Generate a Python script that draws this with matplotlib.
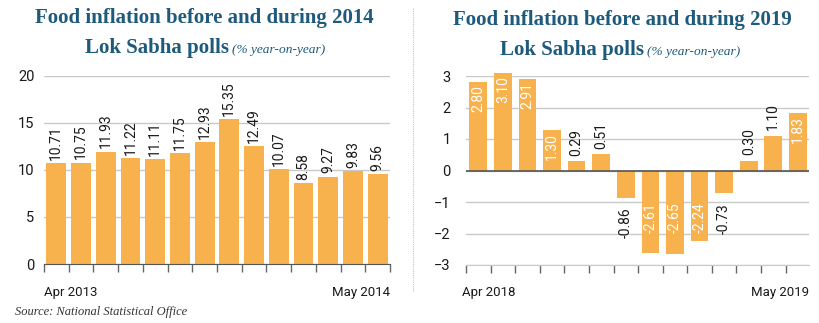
import matplotlib.pyplot as plt
import numpy as np

# Monthly food inflation, % year-on-year
months_2014 = ['Apr 2013', 'May 2013', 'Jun 2013', 'Jul 2013', 'Aug 2013', 'Sep 2013', 'Oct 2013',
               'Nov 2013', 'Dec 2013', 'Jan 2014', 'Feb 2014', 'Mar 2014', 'Apr 2014', 'May 2014']
infl_2014 = [10.71, 10.75, 11.93, 11.22, 11.11, 11.75, 12.93, 15.35, 12.49, 10.07, 8.58, 9.27, 9.83, 9.56]

months_2019 = ['Apr 2018', 'May 2018', 'Jun 2018', 'Jul 2018', 'Aug 2018', 'Sep 2018', 'Oct 2018',
               'Nov 2018', 'Dec 2018', 'Jan 2019', 'Feb 2019', 'Mar 2019', 'Apr 2019', 'May 2019']
infl_2019 = [2.80, 3.10, 2.91, 1.30, 0.29, 0.51, -0.86, -2.61, -2.65, -2.24, -0.73, 0.30, 1.10, 1.83]

BAR = '#f7b24e'
TITLE = '#1d5a7b'
GRID = '#c9c9c9'
INK = '#1a1a1a'
W, H = 820, 323

plt.rcParams['font.family'] = ['Roboto', 'DejaVu Sans']

fig = plt.figure(figsize=(W / 100, H / 100), dpi=100)


def px_axes(x0, y_top, x1, y_bot):
    return fig.add_axes([x0 / W, 1 - y_bot / H, (x1 - x0) / W, (y_bot - y_top) / H])


def style(ax, n):
    for s in ['left', 'right', 'top']:
        ax.spines[s].set_visible(False)
    ax.set_axisbelow(True)
    ax.yaxis.grid(True, color=GRID, lw=1)
    ax.tick_params(axis='y', length=0, labelsize=10.5, labelcolor=INK)
    ax.set_xticks(np.arange(n + 1) - 0.5)
    ax.set_xticklabels([])
    ax.tick_params(axis='x', length=6, width=1, color='#666666', direction='out')


# ---- left panel: 2014 ----
ax1 = px_axes(44, 75.7, 390, 264)
x1 = np.arange(len(infl_2014))
ax1.bar(x1, infl_2014, width=0.8, color=BAR)
ax1.set_xlim(-0.5, len(infl_2014) - 0.5)
ax1.set_ylim(0, 20)
ax1.set_yticks([0, 5, 10, 15, 20])
style(ax1, len(infl_2014))
ax1.spines['bottom'].set_color('#555555')
ax1.tick_params(axis='y', pad=7)
for xi, v in zip(x1, infl_2014):
    ax1.text(xi, v + 0.35, f'{v:.2f}', rotation=90, ha='center', va='bottom',
             fontsize=10, color=INK, clip_on=False)

# ---- right panel: 2019 ----
ax2 = px_axes(466, 76, 809, 265)
x2 = np.arange(len(infl_2019))
ax2.bar(x2, infl_2019, width=0.72, color=BAR, clip_on=False)
ax2.set_xlim(-0.5, len(infl_2019) - 0.55)
ax2.set_ylim(-3, 3)
ax2.set_yticks([3, 2, 1, 0, -1, -2, -3])
style(ax2, len(infl_2019) - 1)
ax2.spines['bottom'].set_color(GRID)
ax2.tick_params(axis='y', pad=11)
ax2.axhline(0, color='#555555', lw=1.2, zorder=2)
for xi, v in zip(x2, infl_2019):
    lab = f'{v:.2f}'
    if abs(v) >= 1.2:
        # long bars carry their value inside in white
        if v > 0:
            ax2.text(xi, v - 0.1, lab, rotation=90, ha='center', va='top',
                     fontsize=10, color='white', clip_on=False)
        else:
            ax2.text(xi, -1.02, lab, rotation=90, ha='center', va='top',
                     fontsize=10, color='white')
    elif v > 0:
        ax2.text(xi, v + 0.18, lab, rotation=90, ha='center', va='bottom',
                 fontsize=10, color=INK)
    else:
        ax2.text(xi, v - 0.3, lab, rotation=90, ha='center', va='top',
                 fontsize=10, color=INK)

# first / last month labels under each axis
for ax, months, xl, xr in [(ax1, months_2014, 44, 390), (ax2, months_2019, 462, 809)]:
    fig.text(xl / W, 1 - 296 / H, months[0], fontsize=9.5, color=INK, ha='left', va='baseline')
    fig.text(xr / W, 1 - 296 / H, months[-1], fontsize=9.5, color=INK, ha='right', va='baseline')

# titles
serif = ['Liberation Serif', 'DejaVu Serif']
for cx, year, split, dy in [(204, 2014, 229, 0), (622, 2019, 644, 2)]:
    fig.text(cx / W, 1 - (23 + dy) / H, f'Food inflation before and during {year}',
             family=serif, fontweight='bold', fontsize=15, color=TITLE, ha='center', va='baseline')
    fig.text(split / W, 1 - (53.5 + dy) / H, 'Lok Sabha polls', family=serif, fontweight='bold',
             fontsize=15, color=TITLE, ha='right', va='baseline')
    fig.text((split + 3) / W, 1 - (53.5 + dy) / H, '(% year-on-year)', family=serif, style='italic',
             fontsize=9.6, color=TITLE, ha='left', va='baseline')

fig.text(15 / W, 1 - 315 / H, 'Source: National Statistical Office', family=serif,
         style='italic', fontsize=9, color='#333333', ha='left', va='baseline')

# thin divider between the two panels
fig.add_artist(plt.Line2D([413.5 / W, 413.5 / W], [1 - 8 / H, 1 - 292 / H],
                          transform=fig.transFigure, color='#c4c4c4', lw=0.8, ls=(0, (1, 1))))

fig.savefig('out.png', dpi=100)
